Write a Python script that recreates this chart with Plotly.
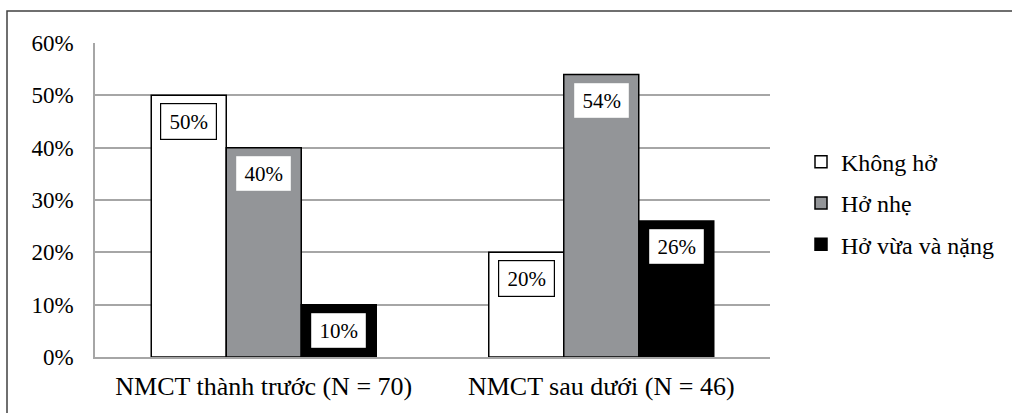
import plotly.graph_objects as go

# Chart data
groups = ["NMCT thành trước (N = 70)", "NMCT sau dưới (N = 46)"]
series_names = ["Không hở", "Hở nhẹ", "Hở vừa và nặng"]
khong_ho = [50, 20]
ho_nhe = [40, 54]
ho_vua_nang = [10, 26]
y_ticks = [0, 10, 20, 30, 40, 50, 60]
y_tick_text = [f"{t}%" for t in y_ticks]

series_values = [khong_ho, ho_nhe, ho_vua_nang]
fills = ["#ffffff", "#939598", "#000000"]
label_borders = ["#000000", "#939598", "#000000"]

FONT = "Liberation Serif"
W, H = 1012, 413
ML, MR, MT, MB = 95, 242, 43, 56
PW, PH = W - ML - MR, H - MT - MB

fig = go.Figure()
for k, (name, vals) in enumerate(zip(series_names, series_values)):
    fig.add_trace(go.Bar(
        name=name, x=groups, y=vals,
        marker=dict(color=fills[k], line=dict(color="#000000", width=1.5)),
        legendgroup=name,
    ))

# value labels boxed inside each bar, just under its top
bar_w = (1 - 1 / 3) / len(series_names)
annotations = []
for k, vals in enumerate(series_values):
    for i, v in enumerate(vals):
        annotations.append(dict(
            x=i + (k - 1) * bar_w, y=v, xref="x", yref="y",
            text=f"{v}%", showarrow=False, yshift=-26,
            font=dict(family=FONT, size=21, color="#000000"),
            bgcolor="#ffffff", bordercolor=label_borders[k], borderwidth=1.2,
            width=55, height=35, borderpad=0, align="center", valign="middle",
        ))

# outer frame around the whole figure
x0 = (7 - ML) / PW
x1 = (W + 2 - ML) / PW
y1 = (H - MB - 11) / PH
y0 = (H - MB - (H + 2)) / PH

fig.update_layout(
    width=W, height=H,
    margin=dict(l=ML, r=MR, t=MT, b=MB, autoexpand=False),
    paper_bgcolor="#ffffff", plot_bgcolor="#ffffff",
    barmode="group", bargap=1 / 3, bargroupgap=0,
    font=dict(family=FONT, color="#000000"),
    showlegend=True,
    legend=dict(
        x=(801 - ML) / PW, xanchor="left", y=0.49, yanchor="middle",
        font=dict(family=FONT, size=24, color="#000000"),
        traceorder="grouped", tracegroupgap=7,
        bgcolor="rgba(0,0,0,0)", itemclick=False,
    ),
    annotations=annotations,
    shapes=[dict(type="rect", xref="paper", yref="paper",
                 x0=x0, x1=x1, y0=y0, y1=y1,
                 line=dict(color="#404040", width=1.5), layer="below")],
)
fig.update_xaxes(
    showgrid=False, showline=True, linecolor="#a6a6a6", linewidth=1.5,
    tickfont=dict(family=FONT, size=26, color="#000000"),
    ticks="", ticklabelstandoff=5,
)
fig.update_yaxes(
    range=[0, 60], tickmode="array", tickvals=y_ticks, ticktext=y_tick_text,
    showgrid=True, gridcolor="#a6a6a6", gridwidth=1.5,
    showline=True, linecolor="#a6a6a6", linewidth=1.5,
    zeroline=False,
    tickfont=dict(family=FONT, size=23, color="#000000"),
    ticks="", ticklabelstandoff=15,
)

fig.write_html("out.html")
